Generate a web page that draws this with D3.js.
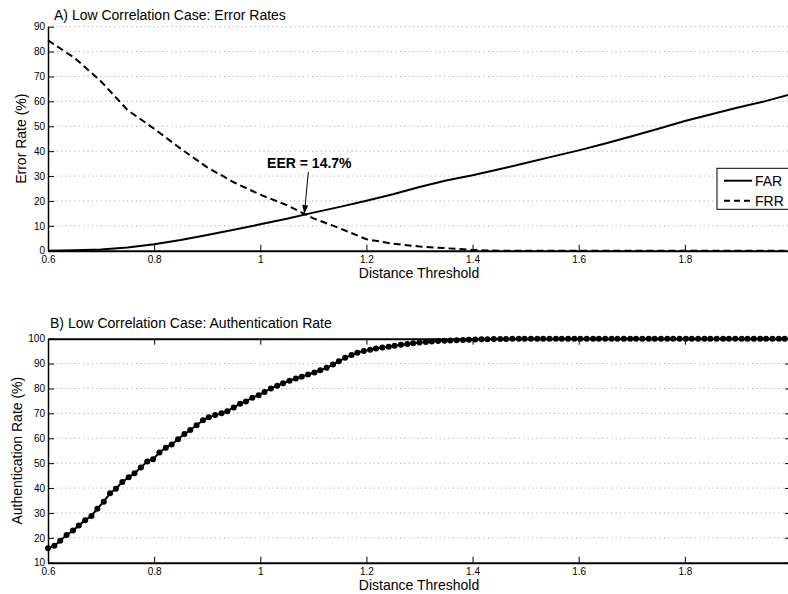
<!DOCTYPE html>
<html>
<head>
<meta charset="utf-8">
<script src="https://cdn.jsdelivr.net/npm/d3@7"></script>
<style>
  html, body { margin: 0; padding: 0; background: #fff; }
  svg { display: block; font-family: "Liberation Sans", Arial, Helvetica, sans-serif; }
</style>
</head>
<body>
<svg id="chart" width="788" height="594"></svg>
<script>
// ---- Panel A: error rates vs. distance threshold ----
const errThresholds = [0.60, 0.65, 0.70, 0.75, 0.80, 0.85, 0.90, 0.95, 1.00, 1.05,
  1.10, 1.15, 1.20, 1.25, 1.30, 1.35, 1.40, 1.45, 1.50, 1.55,
  1.60, 1.65, 1.70, 1.75, 1.80, 1.85, 1.90, 1.95, 2.00];
const farValues = [0.0, 0.2, 0.5, 1.3, 2.6, 4.3, 6.3, 8.4, 10.6, 12.8,
  15.3, 17.6, 20.1, 22.7, 25.6, 28.2, 30.3, 32.7, 35.2, 37.8,
  40.3, 43.1, 46.0, 49.0, 52.1, 54.8, 57.5, 60.0, 62.9];
const frrValues = [84.5, 77.5, 68.0, 56.5, 49.0, 41.0, 33.5, 27.5, 22.5, 18.3,
  13.0, 9.0, 4.6, 2.8, 1.7, 1.0, 0.3, 0.0, 0.0, 0.0,
  0.0, 0.0, 0.0, 0.0, 0.0, 0.0, 0.0, 0.0, 0.0];
const eerThreshold = 1.083;
const eerValue = 14.7;
const seriesNames = ["FAR", "FRR"];

// ---- Panel B: authentication rate vs. distance threshold ----
const authThresholds = [0.600, 0.612, 0.623, 0.635, 0.647, 0.658, 0.670, 0.682, 0.693, 0.705,
  0.717, 0.728, 0.740, 0.752, 0.763, 0.775, 0.787, 0.798, 0.810, 0.822,
  0.833, 0.845, 0.857, 0.868, 0.880, 0.892, 0.903, 0.915, 0.927, 0.938,
  0.950, 0.962, 0.973, 0.985, 0.997, 1.008, 1.020, 1.032, 1.043, 1.055,
  1.067, 1.078, 1.090, 1.102, 1.113, 1.125, 1.137, 1.148, 1.160, 1.172,
  1.183, 1.195, 1.207, 1.218, 1.230, 1.242, 1.253, 1.265, 1.277, 1.288,
  1.300, 1.312, 1.323, 1.335, 1.347, 1.358, 1.370, 1.382, 1.393, 1.405,
  1.417, 1.428, 1.440, 1.452, 1.463, 1.475, 1.487, 1.498, 1.510, 1.522,
  1.533, 1.545, 1.557, 1.568, 1.580, 1.592, 1.603, 1.615, 1.627, 1.638,
  1.650, 1.662, 1.673, 1.685, 1.697, 1.708, 1.720, 1.732, 1.743, 1.755,
  1.767, 1.778, 1.790, 1.802, 1.813, 1.825, 1.837, 1.848, 1.860, 1.872,
  1.883, 1.895, 1.907, 1.918, 1.930, 1.942, 1.953, 1.965, 1.977, 1.988,
  2.000];
const authRates = [15.8, 16.8, 18.8, 21.1, 22.9, 24.9, 27.1, 28.8, 31.7, 34.5,
  37.9, 39.7, 42.4, 44.3, 45.9, 48.3, 50.7, 51.6, 54.3, 56.2,
  57.5, 59.6, 61.7, 63.3, 65.2, 67.2, 68.4, 69.3, 70.0, 70.9,
  72.4, 73.9, 74.8, 76.3, 77.3, 78.6, 80.0, 81.1, 82.1, 83.1,
  84.0, 84.7, 85.6, 86.4, 87.3, 88.3, 89.6, 90.9, 92.3, 93.5,
  94.4, 95.1, 95.6, 96.1, 96.5, 96.8, 97.2, 97.6, 97.9, 98.2,
  98.5, 98.7, 98.9, 99.1, 99.2, 99.3, 99.4, 99.5, 99.6, 99.7,
  99.8, 99.8, 99.9, 99.9, 99.9, 100, 100, 100, 100, 100,
  100, 100, 100, 100, 100, 100, 100, 100, 100, 100,
  100, 100, 100, 100, 100, 100, 100, 100, 100, 100,
  100, 100, 100, 100, 100, 100, 100, 100, 100, 100,
  100, 100, 100, 100, 100, 100, 100, 100, 100, 100,
  100];

// ---- Axis ticks and labels ----
const xTicks = [0.6, 0.8, 1.0, 1.2, 1.4, 1.6, 1.8];
const yTicksA = [0, 10, 20, 30, 40, 50, 60, 70, 80, 90];
const yTicksB = [10, 20, 30, 40, 50, 60, 70, 80, 90, 100];
const titleA = "A) Low Correlation Case: Error Rates";
const titleB = "B) Low Correlation Case: Authentication Rate";
const xLabel = "Distance Threshold";
const yLabelA = "Error Rate (%)";
const yLabelB = "Authentication Rate (%)";
const eerLabel = "EER = " + eerValue + "%";

const svg = d3.select("#chart");
const FONT_TICK = 10, FONT_LABEL = 14, TICK = 6;

const x = d3.scaleLinear().domain([0.6, 2.0]).range([48, 791]);
const yA = d3.scaleLinear().domain([0, 90]).range([250.7, 26.7]);
const yB = d3.scaleLinear().domain([10, 100]).range([562.7, 338.7]);
const fmtX = d => d === 1 ? "1" : d3.format(".1f")(d);

function grid(g, y, ticks, skip) {
  g.selectAll("line").data(ticks.filter(t => !skip.includes(t))).join("line")
    .attr("x1", x.range()[0]).attr("x2", x.range()[1])
    .attr("y1", d => y(d)).attr("y2", d => y(d))
    .attr("stroke", "#9a9a9a").attr("stroke-width", 1)
    .attr("stroke-dasharray", "1,3.4");
}

function styleAxis(g, w) {
  g.select(".domain").attr("stroke", "#000").attr("stroke-width", w);
  g.selectAll(".tick line").attr("stroke", "#000").attr("stroke-width", 1);
  g.selectAll(".tick text").attr("fill", "#000")
    .attr("font-size", FONT_TICK).attr("font-family", "Liberation Sans, Arial, sans-serif");
}

// ================= Panel A =================
const pA = svg.append("g");
grid(pA.append("g"), yA, yTicksA, [0]);

const axA_x = pA.append("g").attr("transform", `translate(0,${yA(0)})`)
  .call(d3.axisBottom(x).tickValues(xTicks).tickFormat(fmtX).tickSizeInner(-TICK).tickSizeOuter(0).tickPadding(5));
styleAxis(axA_x, 2);
const axA_y = pA.append("g").attr("transform", `translate(${x(0.6)},0)`)
  .call(d3.axisLeft(yA).tickValues(yTicksA).tickSizeInner(-TICK).tickSizeOuter(0).tickPadding(3));
styleAxis(axA_y, 1.5);

const lineA = (vals) => d3.line().x((d, i) => x(errThresholds[i])).y(d => yA(d))(vals);
pA.append("path").attr("d", lineA(farValues))
  .attr("fill", "none").attr("stroke", "#000").attr("stroke-width", 2).attr("stroke-linejoin", "round");
pA.append("path").attr("d", lineA(frrValues))
  .attr("fill", "none").attr("stroke", "#000").attr("stroke-width", 2).attr("stroke-dasharray", "7,4");

pA.append("text").attr("x", 54).attr("y", 20).attr("font-size", FONT_LABEL).text(titleA);
pA.append("text").attr("x", 419).attr("y", 278).attr("text-anchor", "middle")
  .attr("font-size", FONT_LABEL).text(xLabel);
pA.append("text").attr("transform", `translate(25.5,${(yA(0) + yA(90)) / 2}) rotate(-90)`)
  .attr("text-anchor", "middle").attr("font-size", FONT_LABEL).text(yLabelA);

// EER annotation with arrow pointing at the crossing
const tipX = x(eerThreshold), tipY = yA(eerValue);
const startX = tipX + 4, startY = tipY - 42;
const ang = Math.atan2(tipY - startY, tipX - startX);
const headL = 9, headW = 3;
const bx = tipX - headL * Math.cos(ang), by = tipY - headL * Math.sin(ang);
pA.append("line").attr("x1", startX).attr("y1", startY).attr("x2", bx).attr("y2", by)
  .attr("stroke", "#000").attr("stroke-width", 1);
pA.append("path")
  .attr("d", `M${tipX},${tipY}L${bx - headW * Math.sin(ang)},${by + headW * Math.cos(ang)}L${bx + headW * Math.sin(ang)},${by - headW * Math.cos(ang)}Z`)
  .attr("fill", "#000");
pA.append("text").attr("x", startX + 1).attr("y", startY - 4).attr("text-anchor", "middle")
  .attr("font-size", 14).attr("font-weight", "bold").text(eerLabel);

// Legend
const leg = pA.append("g").attr("transform", "translate(717,168.3)");
leg.append("rect").attr("width", 90).attr("height", 41)
  .attr("fill", "#fff").attr("stroke", "#000").attr("stroke-width", 1);
seriesNames.forEach((name, i) => {
  const ly = 12.4 + i * 20;
  leg.append("line").attr("x1", 7).attr("x2", 35).attr("y1", ly).attr("y2", ly)
    .attr("stroke", "#000").attr("stroke-width", 2)
    .attr("stroke-dasharray", name === "FRR" ? "6,4" : null);
  leg.append("text").attr("x", 38).attr("y", ly + 5).attr("font-size", FONT_LABEL).text(name);
});

// ================= Panel B =================
const pB = svg.append("g");
grid(pB.append("g"), yB, yTicksB, [10, 100]);

const axB_x = pB.append("g").attr("transform", `translate(0,${yB(10)})`)
  .call(d3.axisBottom(x).tickValues(xTicks).tickFormat(fmtX).tickSizeInner(-TICK).tickSizeOuter(0).tickPadding(5));
styleAxis(axB_x, 2);
const axB_top = pB.append("g").attr("transform", `translate(0,${yB(100)})`)
  .call(d3.axisTop(x).tickValues(xTicks).tickFormat("").tickSizeInner(-TICK).tickSizeOuter(0));
styleAxis(axB_top, 2);
const axB_y = pB.append("g").attr("transform", `translate(${x(0.6)},0)`)
  .call(d3.axisLeft(yB).tickValues(yTicksB).tickSizeInner(-TICK).tickSizeOuter(0).tickPadding(3));
styleAxis(axB_y, 1.5);
const axB_r = pB.append("g").attr("transform", `translate(${x(2.0)},0)`)
  .call(d3.axisRight(yB).tickValues(yTicksB).tickFormat("").tickSizeInner(-TICK).tickSizeOuter(0));
styleAxis(axB_r, 1.5);

pB.append("path")
  .attr("d", d3.line().x((d, i) => x(authThresholds[i])).y(d => yB(d))(authRates))
  .attr("fill", "none").attr("stroke", "#000").attr("stroke-width", 2);
pB.append("g").selectAll("circle").data(authRates).join("circle")
  .attr("cx", (d, i) => x(authThresholds[i])).attr("cy", d => yB(d))
  .attr("r", 3).attr("fill", "#000");

pB.append("text").attr("x", 50).attr("y", 328).attr("font-size", FONT_LABEL).text(titleB);
pB.append("text").attr("x", 419).attr("y", 590).attr("text-anchor", "middle")
  .attr("font-size", FONT_LABEL).text(xLabel);
pB.append("text").attr("transform", `translate(22,${(yB(10) + yB(100)) / 2}) rotate(-90)`)
  .attr("text-anchor", "middle").attr("font-size", FONT_LABEL).text(yLabelB);
</script>
</body>
</html>
